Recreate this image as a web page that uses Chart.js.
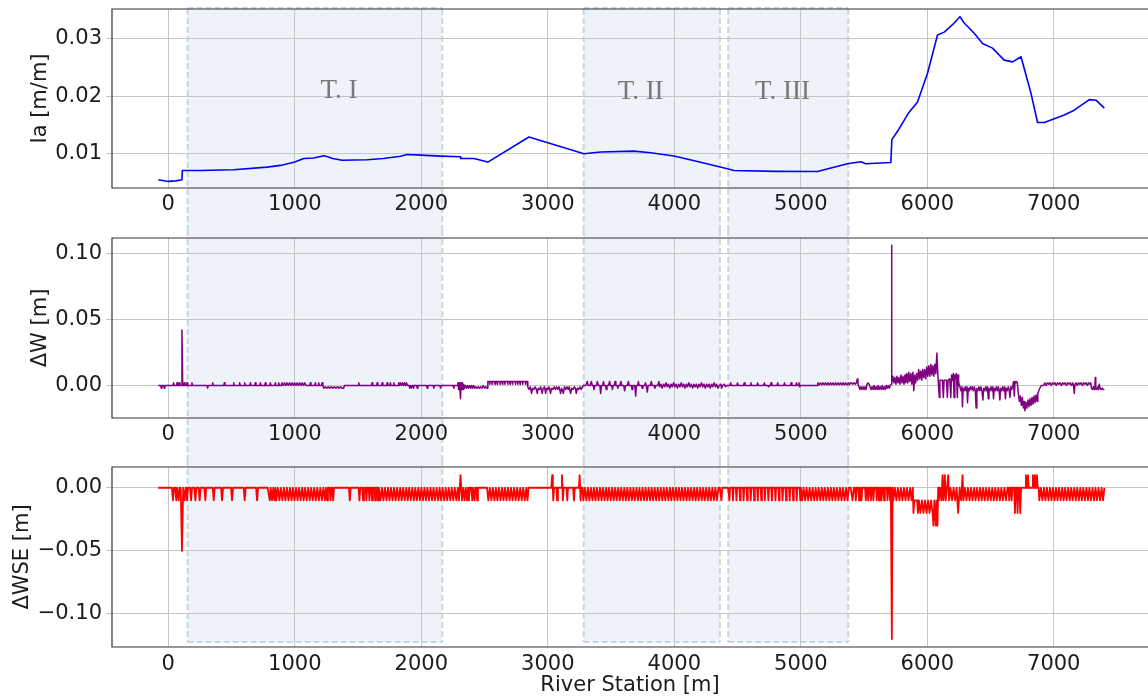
<!DOCTYPE html>
<html>
<head>
<meta charset="utf-8">
<script src="https://cdn.jsdelivr.net/npm/chart.js@4.4.0/dist/chart.umd.min.js"></script>
<style>
  html, body { margin: 0; padding: 0; background: #fff; }
  #wrap { position: relative; width: 1148px; height: 698px; overflow: hidden; }
  .panel { position: absolute; left: 0; width: 1148px; }
</style>
</head>
<body>
<div id="wrap">
  <div class="panel" style="top:0;height:230px"><canvas id="c1"></canvas></div>
  <div class="panel" style="top:230px;height:230px"><canvas id="c2"></canvas></div>
  <div class="panel" style="top:460px;height:238px"><canvas id="c3"></canvas></div>
</div>
<script>
// river station ticks shared by the three panels
const xTicks = [0, 1000, 2000, 3000, 4000, 5000, 6000, 7000];

const iaTicks = [0.01, 0.02, 0.03];
const iaTickLabels = ['0.01', '0.02', '0.03'];
const dwTicks = [0, 0.05, 0.1];
const dwTickLabels = ['0.00', '0.05', '0.10'];
const dwseTicks = [-0.1, -0.05, 0];
const dwseTickLabels = ['\u22120.10', '\u22120.05', '0.00'];

// reaches T. I, T. II, T. III (river station, m)
const regionNames = ['T. I', 'T. II', 'T. III'];
const regionStart = [153, 3284, 4427];
const regionEnd = [2166, 4361, 5375];

// Ia [m/m] : [station, value]
const iaData = [
  [-79,0.0054],[0,0.0051],[60,0.0052],[108,0.0054],[111,0.0070],[253,0.0070],[516,0.00714],[781,0.0076],
  [886,0.0079],[1000,0.0085],[1071,0.0091],[1150,0.0092],[1229,0.0096],[1260,0.0094],[1300,0.0091],[1374,0.0088],
  [1572,0.0089],[1700,0.0091],[1835,0.0095],[1888,0.0098],[2000,0.0097],[2152,0.00953],[2310,0.0094],[2312,0.0091],
  [2416,0.0091],[2526,0.00848],[2851,0.01286],[3286,0.00995],[3418,0.01023],[3681,0.0104],[3813,0.0101],[3998,0.00953],
  [4200,0.0085],[4420,0.00731],[4472,0.0070],[4800,0.00685],[5132,0.00684],[5369,0.0082],[5475,0.00854],[5514,0.0082],
  [5712,0.00842],[5720,0.0124],[5765,0.01386],[5850,0.0170],[5923,0.0190],[6002,0.0240],[6081,0.0307],[6134,0.0312],
  [6200,0.0325],[6258,0.0339],[6292,0.0328],[6371,0.0310],[6437,0.0292],[6516,0.0284],[6608,0.0263],[6675,0.0260],
  [6741,0.0269],[6820,0.0205],[6872,0.0154],[6925,0.0154],[7083,0.0167],[7162,0.01755],[7281,0.0194],[7334,0.0193],
  [7400,0.0179]
];

// ΔW [m] : [station, value]
const dwData = [
  [-80,0],[-60,0],[-55,-0.002],[-50,0],[-37,0],[-32,-0.002],[-27,0],[37,0],[42,0.002],[47,0],[64,0],[69,0.002],[74,0],
  [82,0],[87,0.002],[92,0],[102,0],[108,0.042],[114,0],[122,0],[127,0.002],[132,0],[143,0],[148,0.002],[153,0],
  [182,0],[187,0.002],[192,0],[306,0],[311,-0.002],[316,0],[346,0],[351,0.002],[356,0],[438,0],[443,0.002],[448,0],
  [512,0],[517,0.002],[522,0],[559,0],[564,0.002],[569,0],[599,0],[604,0.002],[609,0],[644,0],[649,0.002],[654,0],
  [683,0],[688,0.002],[693,0],[723,0],[728,0.002],[733,0],[762,0],[767,0.002],[772,0],[802,0],[807,0.002],[812,0],
  [842,0],[847,0.002],[852,0],[868,0],[873,0.002],[878,0],[894,0],
  [899,0.002],[909,0],[919,0.002],[929,0],[939,0.002],[949,0],[959,0.002],[969,0],[979,0.002],[989,0],[999,0.002],
  [1009,0],[1019,0.002],[1029,0],[1039,0.002],[1049,0],[1059,0.002],[1069,0],[1079,0.002],[1089,0],
  [1118,0],[1123,0.002],[1128,0],[1158,0],[1163,0.002],[1168,0],[1184,0],[1189,0.002],[1194,0],[1211,0],[1216,0.002],[1222,0],
  [1229,-0.002],[1241,-0.001],[1253,-0.002],[1265,-0.001],[1277,-0.002],[1289,-0.001],[1301,-0.002],[1313,-0.001],
  [1325,-0.002],[1337,-0.001],[1349,-0.002],[1361,-0.001],[1373,-0.002],[1387,-0.002],[1392,0],
  [1501,0],[1506,0.002],[1511,0],[1606,0],[1611,0.002],[1616,0],[1646,0],[1651,0.002],[1656,0],[1686,0],[1691,0.002],[1696,0],
  [1725,0],[1730,0.002],[1735,0],[1751,0],[1756,0.002],[1761,0],[1778,0],[1783,0.002],[1788,0],[1817,0],[1822,0.002],[1827,0],
  [1835,0.002],[1843,0],[1851,0.002],[1859,0],[1867,0.002],[1875,0],[1883,0.002],[1890,0],
  [1904,0],[1909,-0.002],[1914,0],[1924,-0.002],[1929,0],[1935,0],[1940,-0.002],[1945,0],[1963,0],[1968,-0.002],[1973,0],
  [2042,0],[2047,-0.002],[2052,0],[2094,0],[2099,-0.002],[2104,0],[2147,0],[2152,-0.002],[2157,0],[2252,0],[2257,-0.002],[2262,0],
  [2285,0],[2290,0.002],[2295,-0.003],[2300,0.002],[2305,-0.003],[2310,-0.01],[2315,0.002],[2320,-0.003],[2325,0.002],
  [2330,-0.003],[2335,0.001],[2342,-0.002],[2350,0],[2358,-0.002],[2366,0],[2374,-0.002],[2382,0],[2390,-0.002],[2398,0],[2406,-0.002],
  [2414,0],[2422,-0.002],[2430,-0.001],[2440,-0.002],[2450,-0.001],[2460,-0.002],[2470,-0.001],[2480,-0.002],[2490,0],
  [2500,-0.002],[2510,-0.001],[2520,-0.002],
  [2526,0.003],[2538,0.003],[2541,0.001],[2544,0.003],[2557,0.003],[2560,0.001],[2563,0.003],[2580,0.003],[2583,0.001],[2586,0.003],
  [2598,0.003],[2601,0.001],[2604,0.003],[2621,0.003],[2624,0.001],[2627,0.003],[2640,0.003],[2643,0.001],[2646,0.003],
  [2658,0.003],[2661,0.001],[2664,0.003],[2681,0.003],[2684,0.001],[2687,0.003],[2699,0.003],[2702,0.001],[2705,0.003],
  [2718,0.003],[2721,0.001],[2724,0.003],[2741,0.003],[2744,0.001],[2747,0.003],[2760,0.003],[2763,0.001],[2766,0.003],
  [2778,0.003],[2781,0.001],[2784,0.003],[2799,0.003],[2802,0.001],[2805,0.003],[2821,0.003],[2824,0.001],[2827,0.003],
  [2838,0.003],[2842,-0.001],
  [2852,-0.003],[2862,-0.001],[2872,-0.006],[2880,-0.002],[2890,-0.003],[2900,-0.001],[2910,-0.003],[2917,-0.006],[2924,-0.002],
  [2934,-0.003],[2944,-0.001],[2956,-0.006],[2964,-0.002],[2974,-0.001],[2983,-0.006],[2990,-0.002],[3000,-0.003],[3010,-0.001],
  [3022,-0.006],[3030,-0.002],[3040,-0.003],[3050,-0.001],[3060,-0.003],[3070,-0.001],[3080,-0.003],[3090,-0.001],[3101,-0.006],
  [3110,-0.002],[3123,-0.006],[3132,-0.001],[3142,-0.003],[3152,-0.001],[3162,-0.003],[3170,-0.001],[3180,-0.006],[3190,-0.002],
  [3200,-0.003],[3210,-0.001],[3218,-0.002],[3225,-0.006],[3234,-0.002],[3244,-0.003],[3254,-0.001],[3264,-0.003],[3274,-0.001],[3281,0],
  [3300,0],[3312,0.003],[3320,0],[3335,0],[3344,0.003],[3352,0],[3360,0],[3365,-0.003],[3372,0],[3385,0],[3392,0.003],[3400,0],
  [3412,0],[3418,-0.006],[3424,0],[3434,0],[3440,0.003],[3446,0],[3456,0],[3462,-0.003],[3468,0],[3480,0],[3488,0.003],[3495,0],
  [3505,0],[3511,-0.003],[3517,0],[3525,0],[3532,0.003],[3538,0],[3548,0],[3554,-0.002],[3560,0],[3570,0],[3578,0.003],[3585,0],
  [3600,0],[3608,-0.004],[3615,0],[3630,0],[3637,0.003],[3644,0],[3660,0],[3666,-0.003],[3672,0],[3688,0],[3695,-0.008],[3701,0],
  [3710,0],[3716,0.003],[3722,0],[3740,0],[3746,-0.002],[3752,0],[3765,0],[3772,0.002],[3778,0],[3782,0],[3787,-0.005],[3793,0],
  [3810,0],[3818,0.003],[3826,0],[3840,0],[3847,-0.002],[3855,0],[3870,0],[3878,0.003],[3885,-0.001],[3895,0.001],[3905,-0.002],
  [3915,0.001],[3925,-0.001],[3935,0.002],[3945,-0.001],[3955,0.001],[3965,-0.002],[3975,0.001],[3985,-0.001],[3995,0.002],
  [4005,-0.001],[4015,0.001],[4025,-0.002],[4035,0.001],[4045,-0.001],[4055,0.002],[4065,-0.001],[4075,0.001],[4085,-0.002],
  [4095,0.001],[4105,-0.001],[4115,0.002],[4125,-0.001],[4135,0.001],[4145,-0.002],[4155,0.001],[4165,-0.001],[4175,0.001],
  [4185,-0.002],[4195,0.001],[4205,-0.001],[4215,0.002],[4225,-0.001],[4235,0.001],[4245,-0.002],[4255,0.001],[4265,-0.001],
  [4275,0.001],[4285,-0.002],[4295,0.001],[4305,-0.001],[4315,0.002],[4325,-0.001],[4335,0.001],[4345,-0.002],[4355,0],
  [4368,0.001],[4375,-0.002],[4382,0],[4395,0.001],[4405,-0.001],[4415,0],
  [4440,0],[4446,0.002],[4452,0],[4494,0],[4500,0.002],[4506,0],[4547,0],[4553,0.002],[4559,0],[4600,0],[4606,0.002],[4612,0],
  [4653,0],[4659,0.002],[4665,0],[4706,0],[4712,0.002],[4718,0],[4740,0],[4745,-0.001],[4750,0],[4759,0],[4765,0.002],[4771,0],
  [4812,0],[4818,0.002],[4824,0],[4865,0],[4871,0.002],[4877,0],[4918,0],[4924,0.002],[4930,0],[4960,0],[4966,0.002],[4972,0],
  [4980,0],[4986,0.002],[4992,-0.001],[4998,0],[5130,0],
  [5135,0.002],[5145,0.0005],[5155,0.002],[5165,0.0005],[5175,0.002],[5185,0.0005],[5195,0.002],[5205,0.0005],[5215,0.002],
  [5225,0.0005],[5235,0.002],[5245,0.0005],[5255,0.002],[5265,0.0005],[5275,0.002],[5285,0.0005],[5295,0.002],[5305,0.0005],
  [5315,0.002],[5325,0.0005],[5335,0.002],[5345,0.0005],[5355,0.002],[5365,0.0005],[5375,0.002],[5385,0.0005],[5392,0.002],
  [5400,0.002],[5410,0.001],[5420,0.002],[5430,0.001],[5440,0.002],[5447,0.005],[5452,0.001],[5460,-0.001],[5468,-0.003],
  [5476,-0.001],[5484,-0.003],[5492,-0.001],[5500,-0.003],[5508,-0.001],[5516,-0.003],[5524,0.001],[5532,0.002],[5540,0.001],
  [5548,-0.001],[5556,-0.003],[5564,-0.001],[5572,-0.003],[5580,0],[5588,-0.003],[5596,-0.001],[5604,-0.003],[5612,0],
  [5620,-0.003],[5628,-0.001],[5636,-0.003],[5644,0],[5652,-0.003],[5660,-0.001],[5668,-0.003],[5676,0],[5684,-0.002],
  [5692,0],[5700,-0.002],[5708,0],[5714,0.001],[5717,0.106],[5721,0.002],
  [5728,0.007],[5736,0.002],[5744,0.006],[5752,0.001],[5760,0.007],[5768,0.002],[5776,0.006],[5784,0.001],[5792,0.008],
  [5800,0.002],[5808,0.007],[5816,0.001],[5824,0.008],[5831,0.002],
  [5838,0.009],[5846,0.002],[5854,0.010],[5862,0.003],[5870,0.009],[5878,0.001],[5886,0.010],[5894,-0.004],[5900,0.008],
  [5908,0.002],[5916,0.009],
  [5924,0.004],[5932,0.012],[5940,0.005],[5948,0.011],[5956,0.004],[5964,0.012],[5972,0.006],[5980,0.012],[5988,0.005],
  [5996,0.014],[6004,0.007],[6012,0.015],[6020,0.007],[6028,0.016],[6036,0.008],[6044,0.015],[6052,0.007],[6060,0.016],
  [6068,0.009],[6076,0.0245],[6082,0.012],[6086,0.004],
  [6090,0.004],[6095,-0.009],[6100,0.004],[6120,0.004],[6127,-0.009],[6133,0.004],[6152,0.004],[6159,-0.009],[6165,0.004],
  [6178,0.005],[6186,-0.009],[6192,0.008],[6200,0.004],[6206,0.009],[6212,-0.009],[6218,0.008],[6224,0.005],[6230,0.009],
  [6238,-0.009],[6243,0.008],[6248,0.003],[6253,0],
  [6258,-0.001],[6266,-0.004],[6274,-0.001],[6278,-0.016],[6284,-0.002],[6292,-0.004],[6300,-0.001],[6308,-0.004],[6314,-0.001],
  [6318,-0.013],[6324,-0.002],[6332,-0.004],[6340,-0.001],[6348,-0.003],[6356,-0.001],[6364,-0.004],[6372,-0.001],[6380,-0.004],
  [6386,-0.017],[6392,-0.002],[6400,-0.004],[6408,-0.001],[6416,-0.004],[6424,-0.001],[6432,-0.004],[6440,-0.011],[6446,-0.002],
  [6454,-0.004],[6462,-0.001],[6470,-0.004],[6476,-0.001],[6482,-0.010],[6488,-0.002],[6496,-0.004],[6504,-0.001],[6512,-0.004],
  [6518,-0.001],[6524,-0.010],[6530,-0.002],[6538,-0.004],[6546,-0.001],[6554,-0.004],[6562,-0.001],[6568,-0.004],[6574,-0.011],
  [6580,-0.002],[6588,-0.004],[6596,-0.001],[6604,-0.004],[6612,-0.001],[6618,-0.010],[6624,-0.002],[6632,-0.004],[6640,-0.001],
  [6648,-0.004],[6654,-0.009],[6660,-0.001],[6668,-0.003],[6676,0],[6682,0.003],[6688,-0.008],[6694,0.003],[6700,0.002],
  [6706,0.003],[6712,0.002],
  [6720,-0.006],[6728,-0.012],[6736,-0.008],[6744,-0.015],[6752,-0.009],[6760,-0.017],[6766,-0.012],[6772,-0.019],[6780,-0.013],
  [6788,-0.017],[6796,-0.011],[6804,-0.016],[6812,-0.010],[6820,-0.015],[6828,-0.009],[6836,-0.014],[6844,-0.008],[6852,-0.013],
  [6860,-0.007],[6868,-0.012],[6874,-0.006],[6885,-0.003],[6900,0],[6920,0],
  [6930,0.002],[6940,0],[6950,0.002],[6960,0.001],[6970,0.002],[6980,0],[6990,0.002],[7000,0.001],[7010,0.002],[7020,0],
  [7030,0.002],[7040,0.001],[7050,0.002],[7060,0],[7070,0.002],[7080,0.001],[7090,0.002],[7100,0],[7110,0.002],[7120,0.001],
  [7130,0.002],[7140,0],[7150,0.002],[7156,0],[7162,-0.006],[7168,0.001],[7176,0.002],[7186,0],[7196,0.002],[7206,0.001],
  [7216,0.002],[7226,0],[7236,0.002],[7246,0.001],[7256,0.002],[7266,0],[7276,0.002],[7286,0.001],[7292,0.002],
  [7298,-0.002],[7306,-0.003],[7314,-0.001],[7320,-0.003],[7326,0],[7328,0.006],[7332,-0.002],[7340,-0.003],[7348,-0.001],
  [7354,-0.003],[7360,0.001],[7366,-0.002],[7374,-0.003],[7382,-0.002],[7390,-0.003],[7400,-0.003]
];

// ΔWSE [m] : [station, value]
const dwseData = [
  [-80,0],[28,0],[37,-0.01],[45,0],[55,0],[63,-0.01],[70,0],[76,0],[82,-0.01],[90,0],[98,0],[108,-0.05],[118,0],
  [124,0],[129,-0.01],[138,0],[143,0],[148,-0.01],[156,0],[172,0],[180,-0.01],[188,0],[206,0],[214,-0.01],[222,0],
  [240,0],[248,-0.01],[256,0],[285,0],[293,-0.01],[300,0],[351,0],[359,-0.01],[367,0],[417,0],[425,-0.01],[433,0],
  [496,0],[504,-0.01],[512,0],[596,0],[604,-0.01],[612,0],[694,0],[702,-0.01],[710,0],[786,0],
  [802,-0.01],[810,0],[820,-0.01],[830,0],[839,-0.01],[847,0],[854,-0.01],[866,0],[878,-0.01],[890,0],[902,-0.01],[914,0],
  [926,-0.01],[938,0],[950,-0.01],[962,0],[974,-0.01],[986,0],[998,-0.01],[1010,0],[1022,-0.01],[1034,0],[1046,-0.01],
  [1058,0],[1070,-0.01],[1082,0],[1094,-0.01],[1106,0],[1118,-0.01],[1130,0],[1142,-0.01],[1154,0],[1166,-0.01],[1178,0],
  [1190,-0.01],[1202,0],[1214,-0.01],[1226,0],[1238,-0.01],[1246,0],[1255,-0.01],[1262,0],[1275,0],[1282,-0.01],[1290,0],
  [1296,0],[1303,-0.01],[1310,0],
  [1428,0],[1435,-0.01],[1442,0],[1504,0],[1511,-0.01],[1518,0],[1533,0],[1540,-0.01],[1547,0],[1560,0],[1566,-0.01],
  [1572,0],[1584,0],[1590,-0.01],[1596,0],[1605,0],[1611,-0.01],[1618,0],[1630,0],[1636,-0.01],[1642,0],[1652,0],
  [1658,-0.01],[1665,0],
  [1677,-0.01],[1689,0],[1701,-0.01],[1713,0],[1725,-0.01],[1737,0],[1749,-0.01],[1761,0],[1773,-0.01],[1785,0],[1797,-0.01],
  [1809,0],[1821,-0.01],[1833,0],[1845,-0.01],[1857,0],[1869,-0.01],[1881,0],[1893,-0.01],[1905,0],[1917,-0.01],[1929,0],
  [1941,-0.01],[1953,0],[1965,-0.01],[1977,0],[1989,-0.01],[2001,0],[2013,-0.01],[2025,0],[2037,-0.01],[2049,0],[2061,-0.01],
  [2073,0],[2085,-0.01],[2097,0],[2109,-0.01],[2121,0],[2133,-0.01],[2145,0],[2157,-0.01],[2169,0],[2181,-0.01],[2193,0],
  [2205,-0.01],[2217,0],[2229,-0.01],[2241,0],[2253,-0.01],[2265,0],[2277,-0.01],[2289,0],[2298,-0.01],[2304,0],[2310,0.01],
  [2316,0],[2322,-0.01],[2332,0],[2342,-0.01],[2352,0],[2362,-0.01],[2370,0],[2376,-0.01],[2384,0],[2396,0],[2403,-0.01],
  [2410,0],[2415,0],[2421,-0.01],[2428,0],[2436,0],[2442,-0.01],[2448,0],
  [2520,0],[2530,-0.01],[2542,0],[2554,-0.01],[2566,0],[2578,-0.01],[2590,0],[2602,-0.01],[2614,0],[2626,-0.01],[2638,0],
  [2650,-0.01],[2662,0],[2674,-0.01],[2686,0],[2698,-0.01],[2710,0],[2722,-0.01],[2734,0],[2746,-0.01],[2758,0],[2770,-0.01],
  [2782,0],[2794,-0.01],[2806,0],[2818,-0.01],[2830,0],[2840,-0.01],[2848,0],
  [3028,0],[3035,0.01],[3040,0],[3043,-0.01],[3050,0],[3068,0],[3074,-0.01],[3080,0],[3106,0],[3112,0.01],[3116,0],
  [3119,-0.01],[3126,0],[3148,0],[3154,-0.01],[3160,0],[3200,0],[3207,-0.01],[3214,0],[3246,0],[3252,0.01],[3256,0],
  [3259,-0.01],[3266,0],[3274,0],
  [3281,-0.01],[3293,0],[3305,-0.01],[3317,0],[3329,-0.01],[3341,0],[3353,-0.01],[3365,0],[3377,-0.01],[3389,0],[3401,-0.01],
  [3413,0],[3425,-0.01],[3437,0],[3449,-0.01],[3461,0],[3473,-0.01],[3485,0],[3497,-0.01],[3509,0],[3521,-0.01],[3533,0],
  [3545,-0.01],[3557,0],[3569,-0.01],[3581,0],[3593,-0.01],[3605,0],[3617,-0.01],[3629,0],[3641,-0.01],[3653,0],[3665,-0.01],
  [3677,0],[3689,-0.01],[3701,0],[3713,-0.01],[3725,0],[3737,-0.01],[3749,0],[3761,-0.01],[3773,0],[3785,-0.01],[3797,0],
  [3809,-0.01],[3821,0],[3833,-0.01],[3845,0],[3857,-0.01],[3869,0],[3881,-0.01],[3893,0],[3905,-0.01],[3917,0],[3929,-0.01],
  [3941,0],[3953,-0.01],[3965,0],[3977,-0.01],[3989,0],[4001,-0.01],[4013,0],[4025,-0.01],[4037,0],[4049,-0.01],[4061,0],
  [4073,-0.01],[4085,0],[4097,-0.01],[4109,0],[4121,-0.01],[4133,0],[4145,-0.01],[4157,0],[4169,-0.01],[4181,0],[4193,-0.01],
  [4205,0],[4217,-0.01],[4229,0],[4241,-0.01],[4253,0],[4265,-0.01],[4277,0],[4289,-0.01],[4301,0],[4313,-0.01],[4325,0],
  [4337,-0.01],[4349,0],[4360,0],[4373,-0.01],[4380,0],[4425,0],
  [4431,0],[4436,-0.01],[4441,0],[4459,0],[4464,-0.01],[4469,0],[4487,0],[4492,-0.01],[4497,0],[4515,0],[4520,-0.01],[4525,0],
  [4543,0],[4548,-0.01],[4553,0],[4571,0],[4576,-0.01],[4581,0],[4599,0],[4604,-0.01],[4609,0],[4627,0],[4632,-0.01],[4637,0],
  [4655,0],[4660,-0.01],[4665,0],[4683,0],[4688,-0.01],[4693,0],[4711,0],[4716,-0.01],[4721,0],[4739,0],[4744,-0.01],[4749,0],
  [4767,0],[4772,-0.01],[4777,0],[4795,0],[4800,-0.01],[4805,0],[4823,0],[4828,-0.01],[4833,0],[4851,0],[4856,-0.01],[4861,0],
  [4879,0],[4884,-0.01],[4889,0],[4907,0],[4912,-0.01],[4917,0],[4935,0],[4940,-0.01],[4945,0],[4963,0],[4968,-0.01],[4973,0],
  [4991,0],[4996,-0.01],[5001,0],
  [5010,-0.01],[5022,0],[5034,-0.01],[5046,0],[5058,-0.01],[5070,0],[5082,-0.01],[5094,0],[5106,-0.01],[5118,0],[5130,-0.01],
  [5142,0],[5154,-0.01],[5166,0],[5178,-0.01],[5190,0],[5202,-0.01],[5214,0],[5226,-0.01],[5238,0],[5250,-0.01],[5262,0],
  [5274,-0.01],[5286,0],[5298,-0.01],[5310,0],[5322,-0.01],[5334,0],[5346,-0.01],[5358,0],[5370,-0.01],[5380,0],
  [5395,0],[5409,-0.01],[5420,0],[5428,0],[5435,-0.01],[5442,0],[5454,0],[5461,-0.01],[5468,0],[5474,0],[5480,-0.01],[5487,0],
  [5508,0],[5514,-0.01],[5521,0],[5527,0],[5533,-0.01],[5540,0],[5548,0],[5554,-0.01],[5561,0],[5568,0],[5574,-0.01],[5581,0],
  [5595,0],[5601,-0.01],[5607,0],[5613,0],[5619,-0.01],[5625,0],[5632,0],[5638,-0.01],[5645,0],[5653,0],[5659,-0.01],[5665,0],
  [5680,0],[5686,-0.01],[5692,0],[5700,0],[5707,-0.01],[5712,0],[5720,-0.12],[5726,0],
  [5732,-0.01],[5744,0],[5756,-0.01],[5768,0],[5780,-0.01],[5792,0],[5804,-0.01],[5816,0],[5828,-0.01],[5840,0],[5852,-0.01],
  [5864,0],[5876,-0.01],[5886,0],[5891,-0.02],[5898,-0.01],
  [5920,-0.01],[5926,-0.02],[5934,-0.01],[5946,-0.02],[5958,-0.01],[5970,-0.02],[5982,-0.01],[5994,-0.02],[6006,-0.01],
  [6018,-0.02],[6030,-0.01],[6042,-0.02],[6049,-0.03],[6056,-0.01],[6062,-0.02],[6068,-0.03],[6074,-0.01],[6081,-0.03],[6086,0],
  [6092,-0.01],[6104,0],[6112,-0.01],[6121,0.01],[6128,-0.01],[6139,0.01],[6146,-0.01],[6156,0],[6166,0.01],[6172,-0.01],
  [6184,0],[6196,-0.01],[6208,0],[6220,-0.01],[6232,0],[6244,-0.02],[6256,0],[6268,-0.01],[6279,0.01],[6286,-0.01],[6298,0],
  [6310,-0.01],[6322,0],[6334,-0.01],[6346,0],[6358,-0.01],[6370,0],[6382,-0.01],[6394,0],[6406,-0.01],[6418,0],[6430,-0.01],
  [6442,0],[6454,-0.01],[6466,0],[6478,-0.01],[6490,0],[6502,-0.01],[6514,0],[6526,-0.01],[6538,0],[6550,-0.01],[6562,0],
  [6574,-0.01],[6586,0],[6598,-0.01],[6610,0],[6622,-0.01],[6634,0],[6642,0],
  [6648,-0.01],[6655,0],[6662,0],[6667,-0.01],[6673,0],[6687,0],[6693,-0.02],[6700,0],[6708,0],[6714,-0.02],[6720,0],
  [6728,0],[6735,-0.02],[6742,0],[6774,0],[6780,0.01],[6786,0],[6790,0],[6796,0.01],[6802,0],[6828,0],[6835,0.01],[6841,0],
  [6845,0],[6851,0.01],[6857,0],[6861,0],[6867,0.01],[6873,0],[6880,0],
  [6886,-0.01],[6898,0],[6910,-0.01],[6922,0],[6934,-0.01],[6946,0],[6958,-0.01],[6970,0],[6982,-0.01],[6994,0],[7006,-0.01],
  [7018,0],[7030,-0.01],[7042,0],[7054,-0.01],[7066,0],[7078,-0.01],[7090,0],[7102,-0.01],[7114,0],[7126,-0.01],[7138,0],
  [7150,-0.01],[7162,0],[7174,-0.01],[7186,0],[7198,-0.01],[7210,0],[7222,-0.01],[7234,0],[7246,-0.01],[7258,0],[7270,-0.01],
  [7282,0],[7294,-0.01],[7306,0],[7318,-0.01],[7330,0],[7342,-0.01],[7354,0],[7366,-0.01],[7378,0],[7390,-0.01],[7400,0]
];

const FONT = '"DejaVu Sans", sans-serif';
const INK = '#1c1c1c';
const GRID = '#c6c6c6';

Chart.defaults.font.family = FONT;
Chart.defaults.font.size = 21;
Chart.defaults.color = INK;

function toXY(pairs) {
  return pairs.map(p => ({ x: p[0], y: p[1] }));
}

// shaded reaches, frame and reach labels
const reachPlugin = {
  id: 'reaches',
  beforeDraw(chart, args, opts) {
    const { ctx, chartArea: a, scales: { x } } = chart;
    const top = opts.capTop ? a.top : 0;
    const bottom = opts.capBottom ? a.bottom - 5 : chart.height;
    ctx.save();
    regionStart.forEach((s, i) => {
      const x0 = x.getPixelForValue(s);
      const x1 = x.getPixelForValue(regionEnd[i]);
      ctx.fillStyle = '#eef3fa';
      ctx.fillRect(x0, top, x1 - x0, bottom - top);
      ctx.strokeStyle = '#cbd4e1';
      ctx.lineWidth = 2;
      ctx.setLineDash([6, 3]);
      ctx.beginPath();
      ctx.moveTo(x0, top); ctx.lineTo(x0, bottom);
      ctx.moveTo(x1, top); ctx.lineTo(x1, bottom);
      if (opts.capTop) { ctx.moveTo(x0, top - 1); ctx.lineTo(x1, top - 1); }
      if (opts.capBottom) { ctx.moveTo(x0, bottom); ctx.lineTo(x1, bottom); }
      ctx.stroke();
    });
    ctx.restore();
  },
  afterDraw(chart, args, opts) {
    const { ctx, chartArea: a, scales: { x, y } } = chart;
    ctx.save();
    ctx.strokeStyle = '#333';
    ctx.lineWidth = 1.2;
    ctx.beginPath();
    ctx.moveTo(a.right, a.top); ctx.lineTo(a.left, a.top);
    ctx.lineTo(a.left, a.bottom); ctx.lineTo(a.right, a.bottom);
    ctx.stroke();
    if (opts.labels) {
      ctx.font = '27px "Liberation Serif", serif';
      ctx.fillStyle = '#787878';
      ctx.textAlign = 'center';
      ctx.textBaseline = 'alphabetic';
      regionNames.forEach((t, i) => {
        ctx.fillText(t, x.getPixelForValue(opts.labelX[i]), y.getPixelForValue(opts.labelY[i]));
      });
    }
    ctx.restore();
  }
};

function xAxis(boxHeight, pad, withTitle) {
  return {
    type: 'linear',
    min: -445,
    max: 7745,
    afterBuildTicks: s => { s.ticks = xTicks.map(v => ({ value: v })); },
    afterFit: s => { s.height = boxHeight; s.paddingLeft = 0; s.paddingRight = 0; },
    ticks: { autoSkip: false, maxRotation: 0, padding: pad, color: INK, callback: v => String(v) },
    grid: { color: GRID, lineWidth: 1, drawTicks: false },
    border: { display: false },
    title: {
      display: withTitle, text: 'River Station [m]', color: INK,
      font: { size: 21 }, padding: { top: 0, bottom: 0 }
    }
  };
}

function yAxis(min, max, ticks, labels, title, boxWidth) {
  return {
    type: 'linear',
    min: min,
    max: max,
    afterBuildTicks: s => { s.ticks = ticks.map(v => ({ value: v })); },
    afterFit: s => { s.width = boxWidth; s.paddingTop = 0; s.paddingBottom = 0; },
    ticks: { padding: 4, color: INK, callback: (v, i) => labels[i] },
    grid: { color: GRID, lineWidth: 1, drawTicks: true, tickLength: 6, tickColor: GRID },
    border: { display: false },
    title: {
      display: true, text: title, color: INK,
      font: { size: 21 }, padding: { top: 10, bottom: 0 }
    }
  };
}

function makePanel(id, p) {
  return new Chart(document.getElementById(id), {
    type: 'line',
    data: {
      datasets: [{
        data: toXY(p.data),
        borderColor: p.color,
        borderWidth: p.width,
        borderJoinStyle: 'round',
        pointRadius: 0,
        tension: 0,
        fill: false
      }]
    },
    options: {
      responsive: true,
      maintainAspectRatio: false,
      animation: false,
      devicePixelRatio: 1,
      layout: { padding: { top: p.padTop, left: p.padLeft, right: 0, bottom: 0 } },
      plugins: {
        legend: { display: false },
        tooltip: { enabled: false },
        reaches: p.reaches
      },
      scales: { x: p.x, y: p.y }
    },
    plugins: [reachPlugin]
  });
}

makePanel('c1', {
  data: iaData, color: '#0000ff', width: 1.6, padTop: 9, padLeft: 18,
  x: xAxis(42, 4, false),
  y: yAxis(0.00395, 0.03524, iaTicks, iaTickLabels, 'Ia [m/m]', 94),
  reaches: { capTop: true, capBottom: false, labels: true,
             labelX: [1349, 3734, 4855], labelY: [0.0197, 0.0195, 0.0195] }
});

makePanel('c2', {
  data: dwData, color: '#800080', width: 1.5, padTop: 8, padLeft: 18,
  x: xAxis(42, 4, false),
  y: yAxis(-0.02455, 0.1114, dwTicks, dwTickLabels, '\u0394W [m]', 94),
  reaches: { capTop: false, capBottom: false, labels: false }
});

makePanel('c3', {
  data: dwseData, color: '#ff0000', width: 1.8, padTop: 7, padLeft: 0,
  x: xAxis(51, 5, true),
  y: yAxis(-0.12625, 0.01647, dwseTicks, dwseTickLabels, '\u0394WSE [m]', 112),
  reaches: { capTop: false, capBottom: true, labels: false }
});
</script>
</body>
</html>
